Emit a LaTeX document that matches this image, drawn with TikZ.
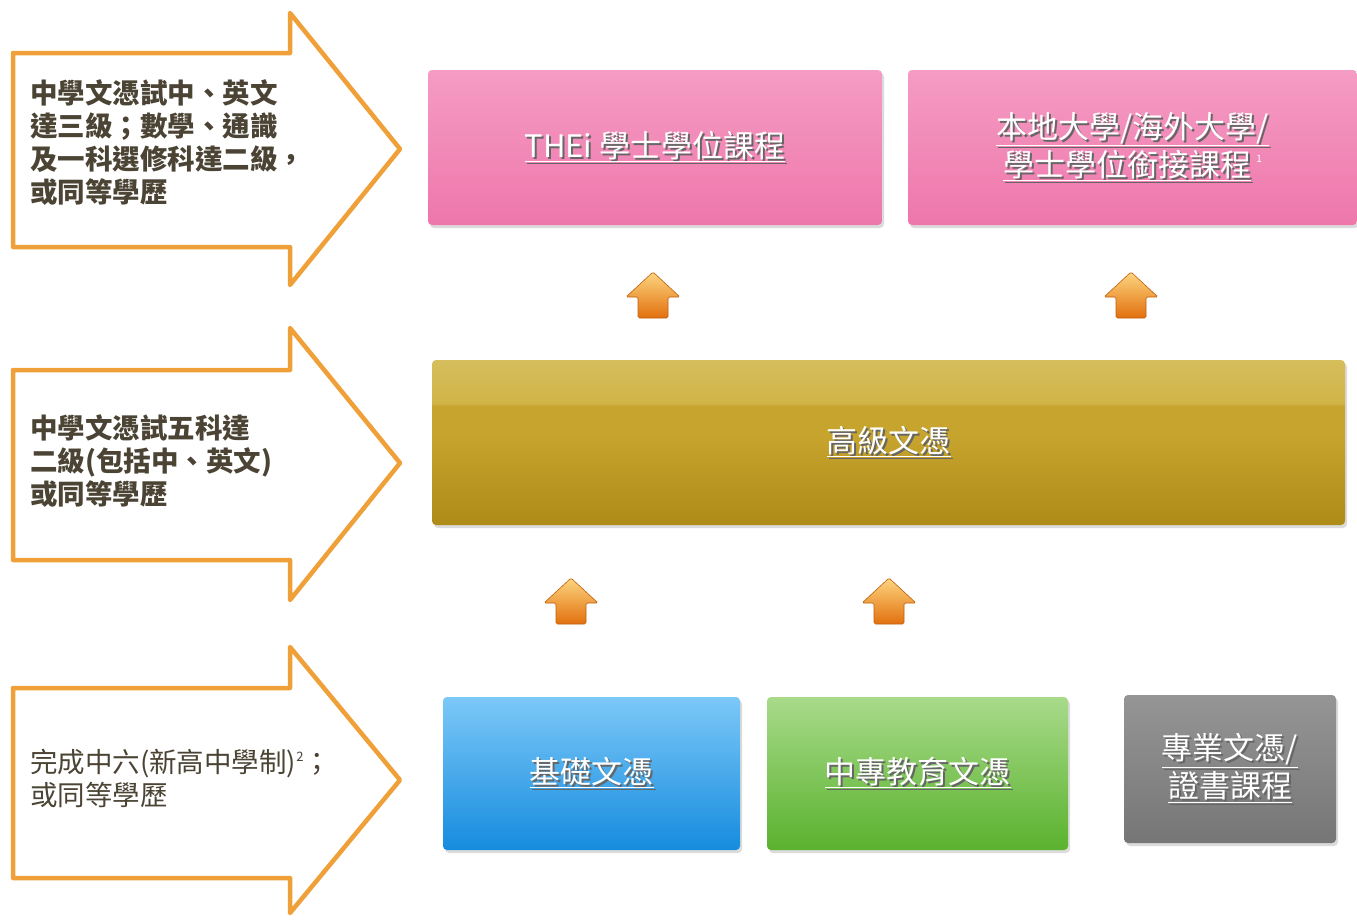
\documentclass[tikz,border=0pt]{standalone}
\usepackage{fontspec}
\usepackage{graphicx}
\setmainfont{Noto Sans CJK TC}
\usetikzlibrary{shadows}
\definecolor{arrorange}{HTML}{EFA038}
\definecolor{lefttext}{HTML}{4B4434}
\definecolor{pinktop}{HTML}{F59CC4}
\definecolor{pinkbot}{HTML}{EE77AB}
\definecolor{goldtop}{HTML}{D6BE5C}
\definecolor{goldhi}{HTML}{D0B448}
\definecolor{goldmid}{HTML}{C6A42E}
\definecolor{goldbot}{HTML}{AE8A16}
\definecolor{bluetop}{HTML}{7CC8F8}
\definecolor{bluebot}{HTML}{168CDE}
\definecolor{greentop}{HTML}{A8DA8A}
\definecolor{greenbot}{HTML}{5AB22E}
\definecolor{graytop}{HTML}{959595}
\definecolor{graybot}{HTML}{767676}
\definecolor{uptop}{HTML}{FDD680}
\definecolor{upbot}{HTML}{E2700E}
\pgfdeclareverticalshading{goldsh}{100bp}{color(0bp)=(goldbot); color(25bp)=(goldbot); color(52bp)=(goldmid); color(61bp)=(goldmid); color(62bp)=(goldhi); color(75bp)=(goldtop); color(100bp)=(goldtop)}
\newcommand{\lblfont}{\fontsize{31}{38}\selectfont}
\newcommand{\leftfont}{\fontsize{27.5}{33}\selectfont}
\newcommand{\wlab}[1]{\makebox[0pt][l]{\kern2pt\raisebox{-2pt}{\textcolor{black!60}{\underline{#1}}}}\textcolor{white}{\underline{#1}}}
\tikzset{
  bigarrow/.style={draw=arrorange, line width=4.5pt, line join=round, fill=white},
  lefttxt/.style={anchor=west, align=left, inner sep=0pt, text=lefttext, font=\leftfont},
  box/.style={rectangle, rounded corners=4pt, inner sep=0pt, align=center, font=\lblfont,
    drop shadow={opacity=0.28, shadow xshift=2pt, shadow yshift=-3pt}},
  pinkbox/.style={box, top color=pinktop, bottom color=pinkbot},
  goldbox/.style={box, shading=goldsh},
  bluebox/.style={box, top color=bluetop, bottom color=bluebot},
  greenbox/.style={box, top color=greentop, bottom color=greenbot},
  graybox/.style={box, top color=graytop, bottom color=graybot},
  uparr/.style={top color=uptop, bottom color=upbot, draw=upbot!85!black, line width=0.6pt, rounded corners=1.5pt}
}
\begin{document}
\begin{tikzpicture}[x=1pt, y=-1pt]
\useasboundingbox (0,0) rectangle (1357,919);
\fill[white] (0,0) rectangle (1357,919);

% left outline arrows
\draw[bigarrow] (13,53) -- (290,53) -- (290,13) -- (400,149) -- (290,285) -- (290,247) -- (13,247) -- cycle;
\draw[bigarrow] (13,370) -- (290,370) -- (290,328) -- (400,463) -- (290,600) -- (290,560) -- (13,560) -- cycle;
\draw[bigarrow] (13,688) -- (290,688) -- (290,647) -- (400,780) -- (290,913) -- (290,878) -- (13,878) -- cycle;

\node[lefttxt, font=\leftfont\bfseries] (req1) at (30,142.5) {中學文憑試中、英文\\達三級；數學、通識\\及一科選修科達二級，\\或同等學歷};
\node[lefttxt, font=\leftfont\bfseries] (req2) at (30,461.5) {中學文憑試五科達\\二級(包括中、英文)\\或同等學歷};
\node[lefttxt] (req3) at (30,778.5) {完成中六(新高中學制)\raisebox{11pt}{\fontsize{13}{13}\selectfont 2}；\\或同等學歷};

% top boxes
\node[pinkbox, minimum width=454pt, minimum height=155pt] (thei) at (655,147.5) {\wlab{THEi 學士學位課程}};
\node[pinkbox, minimum width=449pt, minimum height=155pt] (univ) at (1132.5,147.5) {\wlab{本地大學/海外大學/}\\\wlab{學士學位銜接課程}\,\raisebox{14pt}{\fontsize{10}{10}\selectfont\textcolor{white}{1}}};

% middle box
\node[goldbox, minimum width=913pt, minimum height=165pt] (hd) at (888.5,442.5) {\wlab{高級文憑}};

% bottom boxes
\node[bluebox, minimum width=297pt, minimum height=153pt] (found) at (591.5,773.5) {\wlab{基礎文憑}};
\node[greenbox, minimum width=301pt, minimum height=153pt] (dvq) at (917.5,773.5) {\wlab{中專教育文憑}};
\node[graybox, minimum width=212pt, minimum height=148pt] (prof) at (1230,769) {\wlab{專業文憑/}\\\wlab{證書課程}};

% small up arrows
\foreach \cx/\ty in {653/272, 1131/272, 571/578, 889/578}{
  \path[uparr] (\cx,\ty) -- (\cx+27,\ty+25) -- (\cx+15,\ty+25) -- (\cx+15,\ty+46) -- (\cx-15,\ty+46) -- (\cx-15,\ty+25) -- (\cx-27,\ty+25) -- cycle;
}
\end{tikzpicture}
\end{document}
